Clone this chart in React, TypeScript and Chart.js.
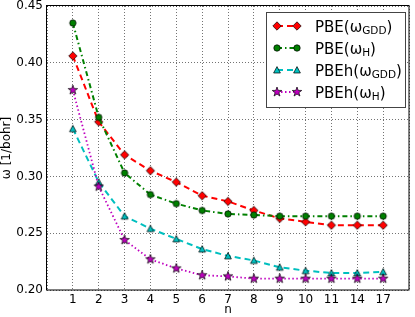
import React, { useEffect, useRef } from 'react';
import { Chart, registerables } from 'chart.js';

Chart.register(...registerables);

const nLabels = ['1', '2', '3', '4', '5', '6', '7', '8', '9', '10', '11', '14', '17'];
const pbeGdd = [0.406, 0.348, 0.319, 0.305, 0.295, 0.283, 0.278, 0.270, 0.263, 0.260, 0.257, 0.257, 0.257];
const pbeH = [0.435, 0.352, 0.303, 0.284, 0.276, 0.270, 0.267, 0.266, 0.265, 0.265, 0.265, 0.265, 0.265];
const pbehGdd = [0.342, 0.295, 0.265, 0.254, 0.245, 0.236, 0.230, 0.226, 0.220, 0.217, 0.215, 0.215, 0.216];
const pbehH = [0.376, 0.291, 0.244, 0.227, 0.219, 0.213, 0.212, 0.210, 0.210, 0.210, 0.210, 0.210, 0.210];
const yTicks = [0.2, 0.25, 0.3, 0.35, 0.4, 0.45];

const FONT = '"DejaVu Sans", "Liberation Sans", sans-serif';

type Kind = 'diamond' | 'circle' | 'triangle' | 'star';

function makeMarker(kind: Kind, fill: string): HTMLCanvasElement {
  const c = document.createElement('canvas');
  const s = 14;
  c.width = s;
  c.height = s;
  const ctx = c.getContext('2d')!;
  ctx.translate(s / 2, s / 2);
  ctx.beginPath();
  if (kind === 'diamond') {
    const r = 4.2;
    ctx.moveTo(0, -r);
    ctx.lineTo(r, 0);
    ctx.lineTo(0, r);
    ctx.lineTo(-r, 0);
    ctx.closePath();
  } else if (kind === 'circle') {
    ctx.arc(0, 0, 3.2, 0, Math.PI * 2);
  } else if (kind === 'triangle') {
    ctx.moveTo(0, -3.4);
    ctx.lineTo(3.4, 3.0);
    ctx.lineTo(-3.4, 3.0);
    ctx.closePath();
  } else {
    for (let i = 0; i < 10; i++) {
      const a = -Math.PI / 2 + (i * Math.PI) / 5;
      const r = i % 2 ? 2.0 : 5.0;
      const px = Math.cos(a) * r;
      const py = Math.sin(a) * r;
      if (i === 0) ctx.moveTo(px, py);
      else ctx.lineTo(px, py);
    }
    ctx.closePath();
  }
  ctx.fillStyle = fill;
  ctx.fill();
  ctx.lineWidth = 0.7;
  ctx.strokeStyle = '#000';
  ctx.stroke();
  return c;
}

export default function App() {
  const ref = useRef<HTMLCanvasElement | null>(null);

  useEffect(() => {
    const canvas = ref.current;
    if (!canvas) return;

    const series = [
      { main: 'PBE(ω', sub: 'GDD', values: pbeGdd, color: '#ff0000', dash: [6, 4], kind: 'diamond' as Kind, width: 2 },
      { main: 'PBE(ω', sub: 'H', values: pbeH, color: '#008000', dash: [5, 3, 1.5, 3], kind: 'circle' as Kind, width: 2 },
      { main: 'PBEh(ω', sub: 'GDD', values: pbehGdd, color: '#00bfbf', dash: [6, 4], kind: 'triangle' as Kind, width: 2 },
      { main: 'PBEh(ω', sub: 'H', values: pbehH, color: '#bf00bf', dash: [1.5, 2.5], kind: 'star' as Kind, width: 1.8 },
    ];
    const markers = series.map((s) => makeMarker(s.kind, s.color));

    const framePlugin = {
      id: 'frame',
      afterDraw(chart: any) {
        const { ctx, chartArea } = chart;
        const { left, right, top, bottom } = chartArea;
        ctx.save();
        ctx.setLineDash([]);
        ctx.strokeStyle = '#000';
        ctx.lineWidth = 1;
        ctx.strokeRect(left - 0.5, top - 0.5, right - left + 0.5, bottom - top + 0.5);

        // legend
        const lx = 266.5, ly = 12.5, lw = 139, lh = 95;
        ctx.fillStyle = '#fff';
        ctx.fillRect(lx, ly, lw, lh);
        ctx.strokeStyle = '#444';
        ctx.strokeRect(lx, ly, lw, lh);
        const rowY = [26, 48, 70, 92];
        series.forEach((s, i) => {
          const y = rowY[i];
          ctx.beginPath();
          ctx.strokeStyle = s.color;
          ctx.lineWidth = s.width;
          ctx.setLineDash(s.dash);
          ctx.moveTo(277, y);
          ctx.lineTo(297, y);
          ctx.stroke();
          ctx.setLineDash([]);
          const m = markers[i];
          ctx.drawImage(m, 277 - m.width / 2, y - m.height / 2);
          ctx.drawImage(m, 297 - m.width / 2, y - m.height / 2);
          ctx.fillStyle = '#000';
          ctx.textBaseline = 'alphabetic';
          ctx.textAlign = 'left';
          ctx.font = `15px ${FONT}`;
          let x = 315;
          ctx.fillText(s.main, x, y + 5.5);
          x += ctx.measureText(s.main).width;
          ctx.font = `10.5px ${FONT}`;
          ctx.fillText(s.sub, x, y + 7.5);
          x += ctx.measureText(s.sub).width;
          ctx.font = `15px ${FONT}`;
          ctx.fillText(')', x, y + 5.5);
        });
        ctx.restore();
      },
    };

    const chart = new Chart(canvas, {
      type: 'line',
      data: {
        datasets: series.map((s, i) => ({
          label: s.main + s.sub + ')',
          data: s.values.map((v, j) => ({ x: j + 1, y: v })),
          borderColor: s.color,
          backgroundColor: s.color,
          borderWidth: s.width,
          borderDash: s.dash,
          pointStyle: markers[i] as any,
          pointRadius: 4,
          fill: false,
          tension: 0,
          order: series.length - 1 - i,
        })),
      },
      options: {
        animation: false,
        responsive: false,
        devicePixelRatio: 1,
        layout: { padding: { top: 6, right: 2, left: 0, bottom: 0 } },
        plugins: { legend: { display: false }, tooltip: { enabled: false } },
        scales: {
          x: {
            type: 'linear',
            min: 0,
            max: nLabels.length + 1,
            afterBuildTicks: (scale: any) => {
              scale.ticks = Array.from({ length: nLabels.length + 2 }, (_, k) => ({ value: k }));
            },
            afterFit: (scale: any) => {
              scale.height = 27;
              scale.paddingLeft = 0;
              scale.paddingRight = 0;
            },
            ticks: {
              autoSkip: false,
              maxRotation: 0,
              padding: 3,
              color: '#000',
              font: { family: FONT, size: 12 },
              callback: (v: any) => {
                const k = Math.round(Number(v));
                return k >= 1 && k <= nLabels.length ? nLabels[k - 1] : '';
              },
            },
            grid: { color: 'rgba(0,0,0,0.55)', lineWidth: 1, drawTicks: false },
            border: { display: false, dash: [1, 2] },
            title: {
              display: true,
              text: 'n',
              color: '#000',
              font: { family: FONT, size: 12 },
              padding: { top: 0, bottom: 0 },
            },
          },
          y: {
            type: 'linear',
            min: yTicks[0],
            max: yTicks[yTicks.length - 1],
            afterBuildTicks: (scale: any) => {
              scale.ticks = yTicks.map((v) => ({ value: v }));
            },
            afterFit: (scale: any) => {
              scale.width = 47;
              scale.paddingTop = 0;
              scale.paddingBottom = 0;
            },
            ticks: {
              padding: 4,
              color: '#000',
              font: { family: FONT, size: 12 },
              callback: (v: any) => Number(v).toFixed(2),
            },
            grid: { color: 'rgba(0,0,0,0.55)', lineWidth: 1, drawTicks: false },
            border: { display: false, dash: [1, 2] },
            title: {
              display: true,
              text: 'ω [1/bohr]',
              color: '#000',
              font: { family: FONT, size: 12 },
              padding: { top: 0, bottom: 0 },
            },
          },
        },
      },
      plugins: [framePlugin],
    });

    return () => chart.destroy();
  }, []);

  return (
    <div style={{ position: 'fixed', left: 0, top: 0, width: 415, height: 317, background: '#fff' }}>
      <canvas ref={ref} width={415} height={317} style={{ display: 'block', width: 415, height: 317 }} />
    </div>
  );
}
